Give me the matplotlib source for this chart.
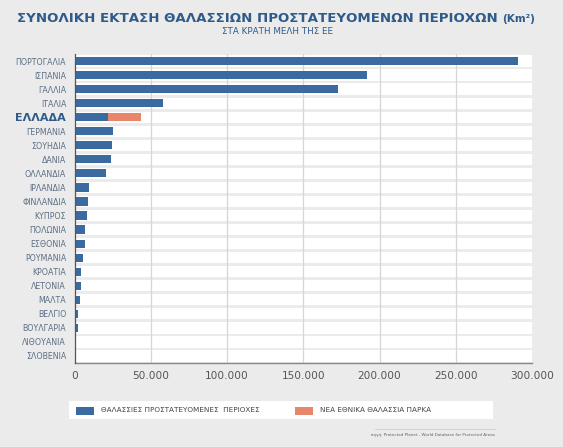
import matplotlib
matplotlib.use("Agg")
import matplotlib.pyplot as plt
from matplotlib.patches import Rectangle
from matplotlib.lines import Line2D

countries = ["ΠΟΡΤΟΓΑΛΙΑ", "ΙΣΠΑΝΙΑ", "ΓΑΛΛΙΑ", "ΙΤΑΛΙΑ", "ΕΛΛΑΔΑ", "ΓΕΡΜΑΝΙΑ",
             "ΣΟΥΗΔΙΑ", "ΔΑΝΙΑ", "ΟΛΛΑΝΔΙΑ", "ΙΡΛΑΝΔΙΑ", "ΦΙΝΛΑΝΔΙΑ", "ΚΥΠΡΟΣ",
             "ΠΟΛΩΝΙΑ", "ΕΣΘΟΝΙΑ", "ΡΟΥΜΑΝΙΑ", "ΚΡΟΑΤΙΑ", "ΛΕΤΟΝΙΑ", "ΜΑΛΤΑ",
             "ΒΕΛΓΙΟ", "ΒΟΥΛΓΑΡΙΑ", "ΛΙΘΟΥΑΝΙΑ", "ΣΛΟΒΕΝΙΑ"]
protected = [290500, 191500, 172600, 58100, 21900, 25200,
             24600, 23900, 20600, 9400, 9000, 8100,
             6800, 6600, 5900, 4400, 4200, 3500,
             2600, 2200, 900, 150]
new_parks = [0, 0, 0, 0, 22000, 0,
             0, 0, 0, 0, 0, 0,
             0, 0, 0, 0, 0, 0,
             0, 0, 0, 0]
xticks = [0, 50000, 100000, 150000, 200000, 250000, 300000]
xticklabels = ["0", "50.000", "100.000", "150.000", "200.000", "250.000", "300.000"]
legend_labels = ["ΘΑΛΑΣΣΙΕΣ ΠΡΟΣΤΑΤΕΥΟΜΕΝΕΣ  ΠΕΡΙΟΧΕΣ", "ΝΕΑ ΕΘΝΙΚΑ ΘΑΛΑΣΣΙΑ ΠΑΡΚΑ"]
title = "ΣΥΝΟΛΙΚΗ ΕΚΤΑΣΗ ΘΑΛΑΣΣΙΩΝ ΠΡΟΣΤΑΤΕΥΟΜΕΝΩΝ ΠΕΡΙΟΧΩΝ"
title_unit = "(Km²)"
subtitle = "ΣΤΑ ΚΡΑΤΗ ΜΕΛΗ ΤΗΣ ΕΕ"
source = "πηγή: Protected Planet - World Database for Protected Areas"

BG = "#ebebeb"
BLUE = "#3b6aa0"
ORANGE = "#e8866c"
TITLE_C = "#2e5b8a"
LABEL_C = "#5d6f85"

fig = plt.figure(figsize=(5.63, 4.47), dpi=100, facecolor=BG)
ax = fig.add_axes([74.5/563, (447-363)/447, 457.5/563, 309/447])
ax.set_facecolor(BG)

n = len(countries)
ys = list(range(n))
xmax = xticks[-1]
ax.barh(ys, [xmax]*n, height=0.8, color="white", zorder=1)
for xt in xticks[1:-1]:
    ax.axvline(xt, color="#d6d6d6", lw=0.9, zorder=2)
ax.barh(ys, protected, height=0.58, color=BLUE, zorder=3)
ax.barh(ys, new_parks, left=protected, height=0.58, color=ORANGE, zorder=3)

ax.set_xlim(0, xmax)
ax.set_ylim(n - 0.5, -0.5)
ax.set_yticks(ys)
ax.set_yticklabels(countries)
for lbl in ax.get_yticklabels():
    if lbl.get_text() == "ΕΛΛΑΔΑ":
        lbl.set_fontsize(8)
        lbl.set_fontweight("bold")
        lbl.set_color(TITLE_C)
    else:
        lbl.set_fontsize(5.7)
        lbl.set_color(LABEL_C)
ax.set_xticks(xticks)
ax.set_xticklabels(xticklabels, fontsize=7.6, color="#555555")
ax.tick_params(axis="y", length=0, pad=6)
ax.tick_params(axis="x", length=0, pad=6)
for s in ["top", "right"]:
    ax.spines[s].set_visible(False)
ax.spines["left"].set_color("#555555")
ax.spines["left"].set_linewidth(0.9)
ax.spines["bottom"].set_color("#888888")
ax.spines["bottom"].set_linewidth(1.0)
ax.spines["left"].set_zorder(4)

fig.text(17/563, 1 - 18/447, title, ha="left", va="center", fontsize=9.6,
         fontweight="bold", color=TITLE_C)
fig.text(502/563, 1 - 18.5/447, title_unit, ha="left", va="center", fontsize=7.6,
         fontweight="bold", color=TITLE_C)
fig.text(277/563, 1 - 32/447, subtitle, ha="center", va="center", fontsize=6.3,
         color=TITLE_C)

# legend box
fig.patches.append(Rectangle((69/563, 1 - 419/447), (493-69)/563, 18/447,
                             transform=fig.transFigure, facecolor="white",
                             edgecolor="none"))
fig.patches.append(Rectangle((76/563, 1 - 415/447), 18/563, 8/447,
                             transform=fig.transFigure, facecolor=BLUE, edgecolor="none"))
fig.patches.append(Rectangle((295/563, 1 - 415/447), 18/563, 8/447,
                             transform=fig.transFigure, facecolor=ORANGE, edgecolor="none"))
fig.text(101/563, 1 - 410.5/447, legend_labels[0], ha="left", va="center",
         fontsize=5.2, color="#444444")
fig.text(320/563, 1 - 410.5/447, legend_labels[1], ha="left", va="center",
         fontsize=5.2, color="#444444")
fig.lines.append(Line2D([375/563, 495/563], [1 - 429/447, 1 - 429/447],
                        transform=fig.transFigure, color="#cccccc", lw=0.6))
fig.text(495/563, 1 - 435/447, source, ha="right", va="center", fontsize=3,
         color="#666666")

fig.savefig("out.png", dpi=100, facecolor=BG)
